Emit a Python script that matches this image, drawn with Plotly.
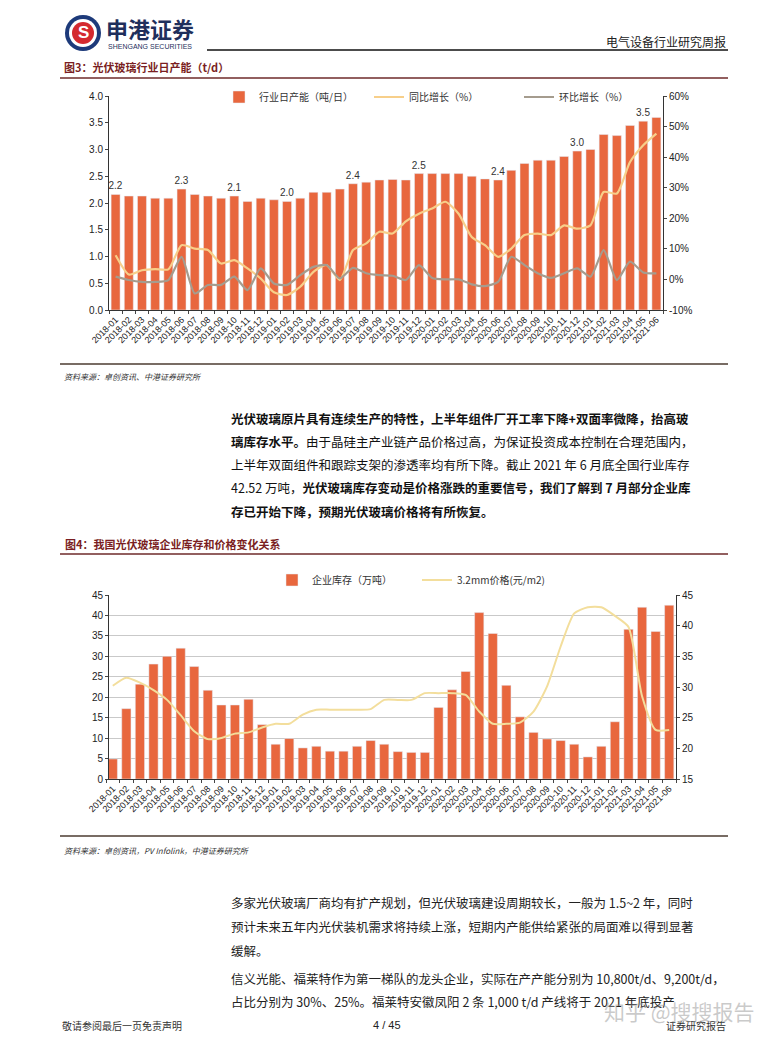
import plotly.graph_objects as go

W, H = 774, 1038
OFF = 8  # page body margin used by the browser

# ---------------- data ----------------
months = [f"{y}-{m:02d}" for y in (2018, 2019, 2020) for m in range(1, 13)] + [f"2021-{m:02d}" for m in range(1, 7)]

capacity = [2.16, 2.13, 2.13, 2.09, 2.09, 2.26, 2.16, 2.13, 2.09, 2.13, 2.03, 2.09,
            2.06, 2.03, 2.09, 2.20, 2.20, 2.26, 2.36, 2.39, 2.43, 2.44, 2.43, 2.55,
            2.55, 2.55, 2.55, 2.50, 2.45, 2.43, 2.61, 2.74, 2.80, 2.80, 2.87, 2.97,
            3.00, 3.28, 3.26, 3.45, 3.53, 3.60]
capacity_labels = ["2.2", "", "", "", "", "2.3", "", "", "", "2.1", "", "",
                   "", "2.0", "", "", "", "", "2.4", "", "", "", "", "2.5",
                   "", "", "", "", "", "2.4", "", "", "", "", "", "3.0",
                   "", "", "", "", "3.5", ""]
yoy = [7.9, 1.6, 3.0, 3.4, 3.3, 11.2, 10.1, 9.6, 5.2, 6.3, 3.6, 0.3,
       -4.2, -5.1, -2.4, 2.5, 4.7, -0.2, 9.6, 11.8, 15.6, 15.0, 19.0, 21.5,
       23.2, 25.4, 21.5, 13.9, 11.2, 7.4, 10.1, 14.5, 15.0, 14.5, 17.7, 16.6,
       17.7, 28.6, 28.1, 38.4, 43.9, 47.7]
mom = [0.9, -0.2, -0.8, -0.8, -0.2, 7.4, -4.6, -1.8, -1.8, 0.9, -3.5, 3.6,
       -1.3, -1.8, 1.4, 4.1, 4.7, 0.3, 3.8, 2.0, 1.4, 1.2, -0.2, 4.7,
       0.5, 0.0, 0.0, -1.6, -2.2, -0.8, 7.4, 4.7, 2.0, 0.5, 2.0, 3.6,
       0.9, 9.6, -0.2, 5.8, 2.3, 2.0]

inventory = [4.9, 17.2, 23.2, 28.1, 30.0, 32.0, 27.5, 21.7, 18.1, 18.1, 19.5, 13.3,
             8.5, 9.9, 7.6, 8.0, 6.8, 6.8, 8.0, 9.4, 8.5, 6.7, 6.5, 6.5,
             17.5, 21.8, 26.3, 40.7, 35.6, 22.9, 15.2, 11.4, 9.8, 9.4, 8.5, 5.4,
             8.0, 14.0, 36.6, 42.0, 36.1, 42.5]
price = [30.2, 31.5, 30.7, 29.5, 27.9, 25.4, 22.8, 21.5, 21.7, 22.4, 22.6, 23.4,
         24.0, 24.0, 25.5, 26.3, 26.3, 26.3, 26.3, 26.4, 27.9, 27.9, 27.9, 29.0,
         29.0, 29.0, 28.7, 26.0, 24.0, 24.0, 24.2, 26.0, 30.1, 36.6, 42.0, 43.0,
         43.0, 41.6, 39.8, 28.5, 23.0, 23.0]

left1_ticks = [0, 0.5, 1.0, 1.5, 2.0, 2.5, 3.0, 3.5, 4.0]
left1_labels = ["0.0", "0.5", "1.0", "1.5", "2.0", "2.5", "3.0", "3.5", "4.0"]
right1_ticks = [-10, 0, 10, 20, 30, 40, 50, 60]
right1_labels = ["-10%", "0%", "10%", "20%", "30%", "40%", "50%", "60%"]
left2_ticks = [0, 5, 10, 15, 20, 25, 30, 35, 40, 45]
right2_ticks = [15, 20, 25, 30, 35, 40, 45]

# ---------------- styles ----------------
BAR = "#E8673E"
YOY = "#F7CF8A"
MOM = "#A59C8E"
PRICE = "#F3DE9C"
NUM_FONT = "Liberation Sans, Noto Sans CJK SC"
CJK = "Noto Sans CJK SC, Liberation Sans"
TITLE_RED = "#7A1E22"


def px(x):
    return (x - OFF) / W


def py(y):
    return 1 - (y - OFF) / H


fig = go.Figure()

# ---------- chart 1 ----------
fig.add_trace(go.Bar(x=months, y=capacity, name="行业日产能（吨/日）", marker_color=BAR,
                     text=capacity_labels, textposition="outside", constraintext="none",
                     textfont=dict(family=NUM_FONT, size=10, color="#333333"),
                     cliponaxis=False, xaxis="x", yaxis="y", legend="legend"))
fig.add_trace(go.Scatter(x=months, y=yoy, name="同比增长（%）", mode="lines",
                         line=dict(color=YOY, width=2.2, shape="spline", smoothing=0.6),
                         xaxis="x", yaxis="y2", legend="legend"))
fig.add_trace(go.Scatter(x=months, y=mom, name="环比增长（%）", mode="lines",
                         line=dict(color=MOM, width=2.2, shape="spline", smoothing=0.6),
                         xaxis="x", yaxis="y2", legend="legend"))

# ---------- chart 2 ----------
fig.add_trace(go.Bar(x=months, y=inventory, name="企业库存（万吨）", marker_color=BAR,
                     xaxis="x2", yaxis="y3", legend="legend2"))
fig.add_trace(go.Scatter(x=months, y=price, name="3.2mm价格(元/m2)", mode="lines",
                         line=dict(color=PRICE, width=2, shape="spline", smoothing=0.6),
                         xaxis="x2", yaxis="y4", legend="legend2"))

tickfont = dict(family=NUM_FONT, size=10, color="#222222")
xtickfont = dict(family=NUM_FONT, size=9, color="#222222")

fig.update_layout(
    width=W, height=H, margin=dict(l=0, r=0, t=0, b=0, autoexpand=False),
    paper_bgcolor="white", plot_bgcolor="white",
    bargap=0.32, showlegend=True,
    xaxis=dict(domain=[px(109), px(663)], anchor="y", type="category", automargin=False,
               tickangle=-45, tickfont=xtickfont, showline=True, linecolor="#333333",
               ticks="outside", ticklen=3, tickson="boundaries", showgrid=False),
    yaxis=dict(domain=[py(310), py(96)], range=[0, 4], tickvals=left1_ticks,
               ticktext=left1_labels, automargin=False,
               tickfont=tickfont, showline=True, linecolor="#333333",
               ticks="outside", ticklen=3, showgrid=False, zeroline=False),
    yaxis2=dict(overlaying="y", side="right", anchor="x", range=[-10, 60], automargin=False,
                tickvals=right1_ticks, ticktext=right1_labels, tickfont=tickfont, showline=True,
                linecolor="#333333", ticks="outside", ticklen=3, showgrid=False, zeroline=False),
    xaxis2=dict(domain=[px(106), px(676)], anchor="y3", type="category", automargin=False,
                tickangle=-45, tickfont=xtickfont, showline=True, linecolor="#333333",
                ticks="outside", ticklen=3, tickson="boundaries", showgrid=False),
    yaxis3=dict(domain=[py(779), py(595)], range=[0, 45], tickvals=left2_ticks, automargin=False,
                tickfont=tickfont, showline=True, linecolor="#333333", ticks="outside",
                ticklen=3, showgrid=True, gridcolor="#C9C9C9", gridwidth=1, zeroline=False),
    yaxis4=dict(overlaying="y3", side="right", anchor="x2", range=[15, 45], automargin=False,
                tickvals=right2_ticks, tickfont=tickfont, showline=True, linecolor="#333333",
                ticks="outside", ticklen=3, showgrid=False, zeroline=False),
    legend=dict(orientation="h", x=px(219), y=py(97), xanchor="left", yanchor="middle",
                font=dict(family=CJK, size=10, color="#333333"), bgcolor="rgba(0,0,0,0)",
                itemwidth=30, entrywidth=105, tracegroupgap=0),
    legend2=dict(orientation="h", x=px(272), y=py(580), xanchor="left", yanchor="middle",
                 font=dict(family=CJK, size=10, color="#333333"), bgcolor="rgba(0,0,0,0)",
                 itemwidth=30, entrywidth=100),
)

# ---------- page decoration ----------
shapes = []
annotations = []


def hline(x0, x1, y, color, width):
    shapes.append(dict(type="line", xref="paper", yref="paper", x0=px(x0), x1=px(x1),
                       y0=py(y), y1=py(y), line=dict(color=color, width=width)))


def text(x, y, s, size=13, color="#111111", family=CJK, anchor="left"):
    annotations.append(dict(xref="paper", yref="paper", x=px(x), y=py(y), text=s,
                            showarrow=False, xanchor=anchor, yanchor="middle",
                            font=dict(family=family, size=size, color=color)))


# logo
shapes.append(dict(type="circle", xref="paper", yref="paper", x0=px(65), x1=px(101),
                   y0=py(51), y1=py(15), fillcolor="#1D3A7A", line=dict(width=0)))
shapes.append(dict(type="circle", xref="paper", yref="paper", x0=px(69), x1=px(97),
                   y0=py(47), y1=py(19), fillcolor="white", line=dict(width=0)))
shapes.append(dict(type="circle", xref="paper", yref="paper", x0=px(72), x1=px(94),
                   y0=py(44), y1=py(22), fillcolor="#D42A2F", line=dict(width=0)))
text(83, 33, "<b>S</b>", size=17, color="white", family="Liberation Sans", anchor="center")
text(104, 28, "<b>申港证券</b>", size=22, color="#1F2F5C")
text(106, 46, "SHENGANG SECURITIES", size=7, color="#1F2F5C", family="Liberation Sans")
text(728, 42, "电气设备行业研究周报", size=12, color="#222222", anchor="right")
hline(207, 728, 50, "#111111", 1.3)

# figure 3 heading
text(62, 67, "<b>图3：光伏玻璃行业日产能（t/d）</b>", size=11, color=TITLE_RED)
hline(60, 728, 78, "#6E2A2A", 1.5)
hline(60, 728, 364, "#4B3B30", 1.5)
text(62, 376, "<i>资料来源：卓创资讯、中港证券研究所</i>", size=8, color="#333333")

# paragraph 1
p1 = [
    "<b>光伏玻璃原片具有连续生产的特性，上半年组件厂开工率下降+双面率微降，抬高玻</b>",
    "<b>璃库存水平。</b>由于晶硅主产业链产品价格过高，为保证投资成本控制在合理范围内，",
    "上半年双面组件和跟踪支架的渗透率均有所下降。截止 2021 年 6 月底全国行业库存",
    "42.52 万吨，<b>光伏玻璃库存变动是价格涨跌的重要信号，我们了解到 7 月部分企业库</b>",
    "<b>存已开始下降，预期光伏玻璃价格将有所恢复。</b>",
]
for i, s in enumerate(p1):
    text(229, 418 + i * 23.3, s, size=12.5, color="#111111")

# figure 4 heading
text(63, 544, "<b>图4：我国光伏玻璃企业库存和价格变化关系</b>", size=11, color=TITLE_RED)
hline(60, 728, 554, "#6E2A2A", 1.5)
hline(60, 728, 836, "#4B3B30", 1.5)
text(62, 850, "<i>资料来源：卓创资讯，PV Infolink，中港证券研究所</i>", size=8, color="#333333")

# paragraph 2/3
p2 = [
    (902, "多家光伏玻璃厂商均有扩产规划，但光伏玻璃建设周期较长，一般为 1.5~2 年，同时"),
    (926, "预计未来五年内光伏装机需求将持续上涨，短期内产能供给紧张的局面难以得到显著"),
    (950, "缓解。"),
    (978, "信义光能、福莱特作为第一梯队的龙头企业，实际在产产能分别为 10,800t/d、9,200t/d，"),
    (1001, "占比分别为 30%、25%。福莱特安徽凤阳 2 条 1,000 t/d 产线将于 2021 年底投产"),
]
for y, s in p2:
    text(229, y, s, size=12.5, color="#222222")

# footer
text(60, 1025, "敬请参阅最后一页免责声明", size=10, color="#333333")
text(387, 1025, "4 / 45", size=11, color="#222222", family="Liberation Sans", anchor="center")
text(728, 1025, "证券研究报告", size=10, color="#333333", anchor="right")
text(757, 1011, "知乎 @搜搜报告", size=21, color="rgba(150,150,150,0.5)", anchor="right")

fig.update_layout(shapes=shapes, annotations=annotations)

fig.write_html("out.html")
